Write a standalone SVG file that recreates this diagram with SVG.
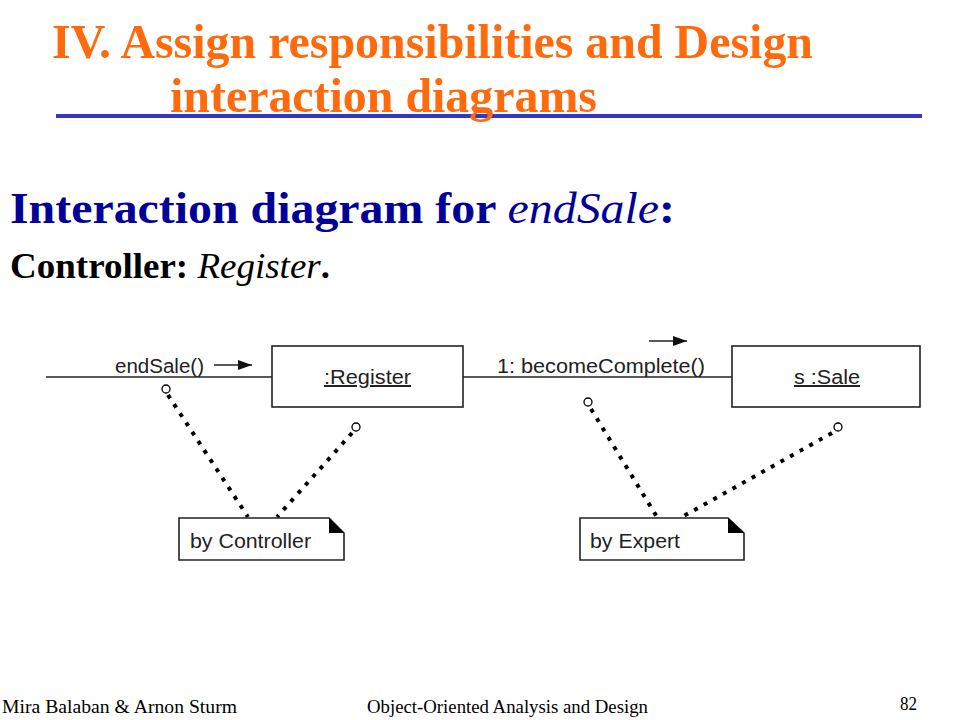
<svg xmlns="http://www.w3.org/2000/svg" width="960" height="720" viewBox="0 0 960 720">
<style>
.title{font-family:"Liberation Serif",serif;font-weight:bold;font-size:49px;fill:#FF6A0D}
.sub{font-family:"Liberation Serif",serif;font-weight:bold;font-size:45px;fill:#000099}
.ctl{font-family:"Liberation Serif",serif;font-size:36px;fill:#000}
.lbl{font-family:"Liberation Sans",Arial,sans-serif;font-size:20px;fill:#222}
.foot{font-family:"Liberation Serif",serif;font-size:18px;fill:#000}
.box{fill:#fff;stroke:#222;stroke-width:1.6}
.dot{fill:none;stroke:#000;stroke-width:4;stroke-dasharray:4 7}
.circ{fill:none;stroke:#000;stroke-width:1.3}
.ln{stroke:#222;stroke-width:1.6;fill:none}
</style>
<defs>
<marker id="ah" viewBox="0 0 10 10" refX="10" refY="5" markerWidth="14" markerHeight="10" markerUnits="userSpaceOnUse" orient="auto" preserveAspectRatio="none">
<path d="M0,0 L10,5 L0,10 z" fill="#111"/>
</marker>
</defs>
<rect width="960" height="720" fill="#fff"/>
<line x1="56" y1="116" x2="922" y2="116" stroke="#3535C8" stroke-width="4"/>
<text class="title" x="52" y="58" textLength="761" lengthAdjust="spacingAndGlyphs">IV. Assign responsibilities and Design</text>
<text class="title" x="170" y="112" textLength="427" lengthAdjust="spacingAndGlyphs">interaction diagrams</text>
<text class="sub" x="10" y="223" textLength="665" lengthAdjust="spacingAndGlyphs">Interaction diagram for <tspan font-style="italic" font-weight="normal">endSale</tspan>:</text>
<text class="ctl" x="10" y="278" textLength="320" lengthAdjust="spacingAndGlyphs"><tspan font-weight="bold">Controller:</tspan> <tspan font-style="italic">Register</tspan><tspan font-weight="bold">.</tspan></text>
<g id="connectors">
<line class="ln" x1="46" y1="377" x2="272" y2="377"/>
<line class="ln" x1="463" y1="377" x2="732" y2="377"/>
<line class="ln" x1="214" y1="365" x2="252" y2="365" marker-end="url(#ah)"/>
<line class="ln" x1="649" y1="341" x2="687" y2="341" marker-end="url(#ah)"/>
<text class="lbl" x="115" y="373" textLength="89" lengthAdjust="spacingAndGlyphs">endSale()</text>
<text class="lbl" x="497" y="373" textLength="208" lengthAdjust="spacingAndGlyphs">1: becomeComplete()</text>
<circle class="circ" cx="166" cy="389" r="4"/>
<line class="dot" x1="168" y1="395" x2="248" y2="517"/>
<circle class="circ" cx="356" cy="427" r="4"/>
<line class="dot" x1="352" y1="433" x2="277" y2="517"/>
<circle class="circ" cx="588" cy="402" r="4"/>
<line class="dot" x1="591" y1="409" x2="657" y2="517"/>
<circle class="circ" cx="838" cy="427" r="4"/>
<line class="dot" x1="832" y1="433" x2="682" y2="517"/>
</g>
<g id="register">
<rect class="box" x="272" y="346" width="191" height="61"/>
<text class="lbl" x="324" y="384" textLength="87" lengthAdjust="spacingAndGlyphs" text-decoration="underline">:Register</text>
</g>
<g id="sale">
<rect class="box" x="732" y="346" width="188" height="61"/>
<text class="lbl" x="794" y="384" textLength="66" lengthAdjust="spacingAndGlyphs" text-decoration="underline">s :Sale</text>
</g>
<g id="note-controller">
<path class="box" d="M179,518 H329 L344,533 V560 H179 Z"/>
<path d="M329,518 L344,533 H329 Z" fill="#000"/>
<text class="lbl" x="190" y="548" textLength="121" lengthAdjust="spacingAndGlyphs">by Controller</text>
</g>
<g id="note-expert">
<path class="box" d="M580,518 H728 L744,533 V560 H580 Z"/>
<path d="M728,518 L744,533 H728 Z" fill="#000"/>
<text class="lbl" x="590" y="548" textLength="90" lengthAdjust="spacingAndGlyphs">by Expert</text>
</g>
<text class="foot" x="2" y="713" textLength="235" lengthAdjust="spacingAndGlyphs">Mira Balaban  &amp;  Arnon Sturm</text>
<text class="foot" x="367" y="713" textLength="281" lengthAdjust="spacingAndGlyphs">Object-Oriented Analysis and Design</text>
<text class="foot" x="900" y="710" textLength="17" lengthAdjust="spacingAndGlyphs">82</text>
</svg>
